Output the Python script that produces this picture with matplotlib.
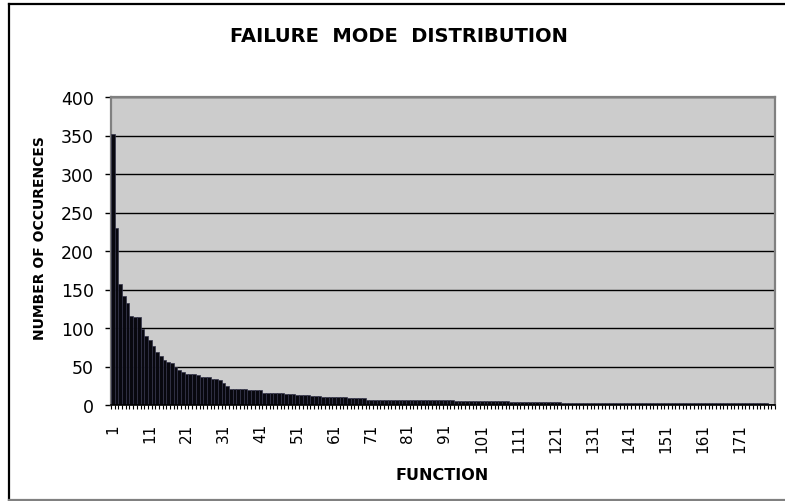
#!/usr/bin/env python3
"""Failure mode distribution bar chart."""

import matplotlib
matplotlib.use("Agg")
import matplotlib.pyplot as plt
from matplotlib.lines import Line2D
from matplotlib.ticker import FixedLocator, NullFormatter

# occurrences per function, ranked
occurrences = [
    352, 230, 157, 142, 133, 116, 114, 114, 99, 90,
    84, 76, 69, 63, 59, 56, 54, 50, 46, 43,
    40, 40, 40, 39, 37, 37, 37, 34, 34, 33,
    29, 25, 21, 21, 21, 21, 21, 20, 20, 20,
    20, 16, 16, 16, 15, 15, 15, 14, 14, 14,
    13, 13, 13, 13, 12, 12, 12, 10, 10, 10,
    10, 10, 10, 10, 9, 9, 9, 9, 9, 7,
    7, 7, 7, 7, 7, 7, 7, 6, 6, 6,
    6, 6, 6, 6, 6, 6, 6, 6, 6, 6,
    6, 6, 6, 5, 5, 5, 5, 5, 5, 5,
    5, 5, 5, 5, 5, 5, 5, 5, 4, 4,
    4, 4, 4, 4, 4, 4, 4, 4, 4, 4,
    4, 4, 3, 3, 3, 3, 3, 3, 3, 3,
    3, 3, 3, 3, 3, 3, 3, 3, 3, 3,
    3, 3, 3, 2, 2, 2, 2, 2, 2, 2,
    2, 2, 2, 2, 2, 2, 2, 2, 2, 2,
    2, 2, 2, 2, 2, 2, 2, 2, 2, 2,
    2, 2, 2, 2, 2, 2, 2, 2, 1, 1,
]
functions = list(range(1, len(occurrences) + 1))
label_functions = [1, 11, 21, 31, 41, 51, 61, 71, 81, 91,
                   101, 111, 121, 131, 141, 151, 161, 171]
y_ticks = [0, 50, 100, 150, 200, 250, 300, 350, 400]

W, H = 785, 502


def main():
    plt.rcParams["font.family"] = ["DejaVu Sans"]
    fig = plt.figure(figsize=(W / 100, H / 100), dpi=100)

    # outer chart frame (right side runs off the picture)
    fig.add_artist(Line2D([9 / W, 9 / W], [1 - 5 / H, 1 - 501 / H],
                          transform=fig.transFigure, color="black", lw=1.6))
    fig.add_artist(Line2D([9 / W, 1.0], [1 - 5 / H, 1 - 5 / H],
                          transform=fig.transFigure, color="black", lw=1.6))
    fig.add_artist(Line2D([9 / W, 1.0], [1 - 501 / H, 1 - 501 / H],
                          transform=fig.transFigure, color="#808080", lw=1.6))

    ax = fig.add_axes([111 / W, 1 - 406 / H, 664 / W, 308 / H])
    ax.set_facecolor("#cccccc")

    ax.bar(functions, occurrences, width=1.0, color="#08080f",
           edgecolor="#34344a", linewidth=0.5, zorder=3)

    ax.set_xlim(0.5, len(occurrences) + 0.5)
    ax.set_ylim(0, 400)

    ax.set_yticks(y_ticks)
    ax.yaxis.grid(True, color="black", lw=1, zorder=1)
    ax.set_axisbelow(True)

    ax.set_xticks(label_functions)
    ax.set_xticklabels([str(v) for v in label_functions], rotation=90)
    ax.xaxis.set_minor_locator(FixedLocator([f - 0.5 for f in functions] + [len(functions) + 0.5]))
    ax.xaxis.set_minor_formatter(NullFormatter())
    ax.tick_params(axis="x", which="major", length=0, pad=13, labelsize=11)
    ax.tick_params(axis="x", which="minor", length=3, width=0.8, color="black")
    ax.tick_params(axis="y", length=4.5, width=1, pad=8, labelsize=12.5)

    for side in ["left", "top", "right"]:
        ax.spines[side].set_color("#808080")
        ax.spines[side].set_linewidth(1.6)
    ax.spines["bottom"].set_color("black")
    ax.spines["bottom"].set_linewidth(1.2)
    ax.spines["bottom"].set_zorder(4)

    fig.text(399 / W, 1 - 36 / H, "FAILURE  MODE  DISTRIBUTION",
             ha="center", va="center", fontsize=14, fontweight="semibold")
    fig.text(40 / W, 1 - 238 / H, "NUMBER OF OCCURENCES", rotation=90,
             ha="center", va="center", fontsize=10, fontweight="bold")
    fig.text(442 / W, 1 - 475 / H, "FUNCTION", ha="center", va="center",
             fontsize=11.5, fontweight="bold")

    fig.savefig("out.png", dpi=100)


if __name__ == "__main__":
    main()
